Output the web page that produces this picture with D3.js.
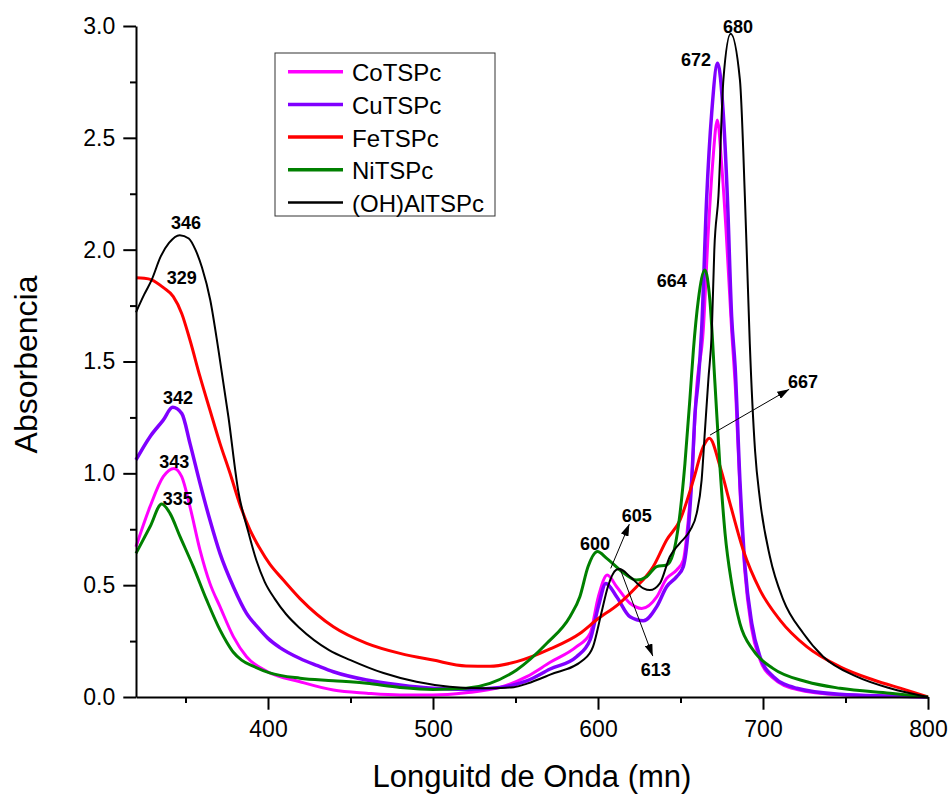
<!DOCTYPE html>
<html>
<head>
<meta charset="utf-8">
<script src="https://cdn.jsdelivr.net/npm/d3@7/dist/d3.min.js"></script>
<style>
  html, body { margin: 0; padding: 0; background: #fff; }
  svg { display: block; font-family: "Liberation Sans", Arial, sans-serif; }
</style>
</head>
<body>
<svg id="chart" width="951" height="794"></svg>
<script>
// UV-Vis absorption spectra of the sulfonated phthalocyanines: [wavelength (nm), absorbance]
const coTSPc = [
  [320,0.672],[328.5,0.851],[336.5,0.985],[343,1.022],[347.7,0.985],[352.7,0.851],[358.8,0.657],
  [364.8,0.508],[370.9,0.404],[379,0.27],[387,0.18],[400,0.112],[419.4,0.068],[439.6,0.031],
  [459.8,0.017],[480,0.009],[500,0.009],[520,0.019],[540.6,0.043],[556.8,0.091],[571,0.155],
  [587,0.225],[595.2,0.284],[600.2,0.448],[605.6,0.545],[611.3,0.493],[619.4,0.419],[626.5,0.396],
  [635.6,0.448],[641.6,0.53],[647.7,0.568],[651.7,0.612],[654.7,0.791],[657.4,1.045],[659.4,1.343],
  [663.8,1.64],[666.9,2.088],[669.5,2.386],[672.3,2.58],[674.9,2.386],[677.6,2.088],[681,1.64],
  [683.5,1.35],[686,0.93],[689,0.56],[693,0.31],[698,0.17],[706,0.085],[720,0.035],[747,0.01],
  [777,0.004],[800,0]
];
const cuTSPc = [
  [320,1.06],[328.5,1.164],[336.5,1.238],[342.2,1.295],[347.7,1.268],[352.7,1.134],[358.8,0.955],
  [364.8,0.791],[370.9,0.642],[379,0.493],[387,0.374],[394,0.31],[400,0.262],[407,0.222],
  [419.4,0.172],[430,0.14],[439.6,0.113],[459.8,0.076],[480,0.054],[500,0.039],[520,0.034],
  [540.6,0.043],[556.8,0.072],[571,0.125],[587,0.18],[595.2,0.255],[600.2,0.404],[604.8,0.508],
  [611.3,0.448],[619.4,0.359],[627.5,0.341],[635.6,0.404],[641.6,0.493],[647.7,0.538],[651.7,0.583],
  [654.7,0.747],[656.8,0.97],[658.8,1.268],[660.8,1.417],[662.8,1.64],[665.9,2.237],[668.9,2.61],
  [672.5,2.833],[675.9,2.61],[678.4,2.237],[681,1.7],[683.1,1.477],[686.1,0.955],[689.1,0.583],
  [693.2,0.329],[698.2,0.18],[706.3,0.091],[720.4,0.039],[746.7,0.012],[777,0.004],[800,0]
];
const feTSPc = [
  [320,1.874],[325,1.872],[329.5,1.865],[336.6,1.83],[342.6,1.79],[347.7,1.715],[352.7,1.596],
  [358.8,1.432],[364.8,1.283],[370.9,1.134],[377,1.0],[383,0.86],[389,0.748],[395,0.665],
  [401,0.595],[409.3,0.523],[419.4,0.44],[439.6,0.314],[459.8,0.24],[480,0.195],[500,0.165],
  [520,0.139],[534.5,0.137],[550.7,0.158],[571,0.215],[589,0.284],[599,0.344],[613,0.419],
  [623.4,0.493],[633.5,0.583],[641.6,0.702],[649.7,0.791],[657.8,0.97],[663.8,1.119],[667.5,1.157],
  [674,1.03],[680,0.866],[688,0.657],[698.2,0.478],[710.3,0.344],[726.5,0.225],[746.7,0.135],
  [767,0.076],[787,0.031],[800,0]
];
const niTSPc = [
  [320,0.642],[328.5,0.761],[335.6,0.863],[340.6,0.821],[346.7,0.717],[354.7,0.583],[362.8,0.434],
  [370.9,0.30],[375,0.245],[379,0.2],[384,0.165],[391,0.138],[401,0.108],[419.4,0.084],[439.6,0.073],
  [459.8,0.061],[480,0.043],[500,0.034],[520,0.039],[534.5,0.061],[550.7,0.121],[569,0.24],[583,0.359],
  [589,0.448],[594,0.583],[599.6,0.65],[605.3,0.62],[613.3,0.568],[623.4,0.523],[629.5,0.538],
  [635.6,0.583],[641.6,0.59],[645.6,0.642],[649.7,0.821],[652.7,1.045],[655.8,1.343],[657.8,1.55],
  [660.8,1.775],[664.8,1.909],[667.8,1.775],[670.9,1.40],[673.9,1.03],[677,0.732],[681,0.508],
  [686,0.329],[694,0.21],[706,0.128],[726.5,0.068],[746.7,0.039],[777,0.017],[800,0]
];
const ohAlTSPc = [
  [320,1.72],[325,1.80],[329.5,1.865],[335,1.97],[340,2.03],[346.5,2.065],[352,2.05],[356,2.0],
  [360,1.92],[365,1.775],[370,1.55],[376,1.253],[382,0.92],[388,0.74],[393,0.61],[398,0.515],
  [404,0.44],[411,0.37],[419,0.31],[437,0.21],[450,0.165],[470,0.107],[490,0.068],[510,0.046],
  [530,0.039],[549,0.044],[557,0.06],[571,0.10],[591,0.165],[597,0.225],[602,0.374],[606,0.493],
  [611,0.568],[613,0.572],[619.5,0.538],[627.5,0.486],[631.5,0.478],[637.5,0.508],[643.5,0.627],
  [649.5,0.687],[655.8,0.745],[659.8,0.821],[662.8,0.97],[664.8,1.19],[666.9,1.42],[669,1.64],
  [670.5,2.0],[673,2.24],[676,2.76],[680.4,2.965],[686,2.76],[689,2.24],[690.1,2.0],[692,1.58],
  [695.2,1.10],[698.2,0.88],[704.2,0.627],[712.3,0.434],[724.4,0.285],[736.5,0.18],[756.8,0.091],
  [777,0.039],[800,0]
];

const seriesNames = ["CoTSPc", "CuTSPc", "FeTSPc", "NiTSPc", "(OH)AlTSPc"];
const seriesData = [coTSPc, cuTSPc, feTSPc, niTSPc, ohAlTSPc];
const seriesColors = ["#ff00ff", "#8000ff", "#ff0000", "#008000", "#000000"];
const seriesWidths = [3, 3.5, 3, 3, 2];

const xMajorTicks = [400, 500, 600, 700, 800];
const xMinorTicks = [350, 450, 550, 650, 750];
const yMajorTicks = [0, 0.5, 1.0, 1.5, 2.0, 2.5, 3.0];
const yMinorTicks = [0.25, 0.75, 1.25, 1.75, 2.25, 2.75];

// Peak labels [text, wavelength, absorbance at text baseline]
const peakLabels = [
  ["346", 350.3, 2.092], ["329", 347.7, 1.846], ["342", 345.5, 1.31], ["343", 343.2, 1.024],
  ["335", 345.3, 0.858], ["600", 598.2, 0.657], ["605", 623.5, 0.784], ["613", 635, 0.094],
  ["664", 644.7, 1.833], ["672", 659.4, 2.821], ["680", 684.8, 2.969], ["667", 724.2, 1.381]
];
// Pointer arrows [from wavelength, from absorbance, to wavelength, to absorbance]
const pointerArrows = [
  [607.7, 0.575, 619.0, 0.773],
  [613.3, 0.575, 633.2, 0.183],
  [667.9, 1.171, 715.9, 1.376]
];

const margin = { left: 136, top: 26, right: 23, bottom: 97 };
const W = 951, H = 794;

const svg = d3.select("#chart");
svg.append("rect").attr("width", W).attr("height", H).attr("fill", "#fff");

const x = d3.scaleLinear().domain([320, 800]).range([margin.left, W - margin.right]);
const y = d3.scaleLinear().domain([0, 3.0]).range([H - margin.bottom, margin.top]);

const line = d3.line()
  .x(d => x(d[0]))
  .y(d => y(d[1]))
  .curve(d3.curveMonotoneX);

const plot = svg.append("g");
seriesData.forEach((s, i) => {
  plot.append("path")
    .datum(s)
    .attr("fill", "none")
    .attr("stroke", seriesColors[i])
    .attr("stroke-width", seriesWidths[i])
    .attr("stroke-linejoin", "round")
    .attr("d", line);
});

// Axes: major ticks with labels, minor ticks without
const tickFont = 23;
svg.append("g").attr("transform", `translate(${margin.left},0)`)
  .call(d3.axisLeft(y).tickValues(yMajorTicks).tickFormat(d3.format(".1f"))
    .tickSize(12.7).tickSizeOuter(0).tickPadding(8));
svg.append("g").attr("transform", `translate(${margin.left},0)`)
  .call(d3.axisLeft(y).tickValues(yMinorTicks).tickFormat("").tickSize(6).tickSizeOuter(0))
  .select(".domain").remove();

svg.append("g").attr("transform", `translate(0,${H - margin.bottom})`)
  .call(d3.axisBottom(x).tickValues(xMajorTicks).tickFormat(d3.format("d"))
    .tickSize(12.7).tickSizeOuter(0).tickPadding(11));
svg.append("g").attr("transform", `translate(0,${H - margin.bottom})`)
  .call(d3.axisBottom(x).tickValues(xMinorTicks).tickFormat("").tickSize(6).tickSizeOuter(0))
  .select(".domain").remove();

svg.selectAll(".domain").attr("stroke", "#000").attr("stroke-width", 2);
svg.selectAll(".tick line").attr("stroke", "#000").attr("stroke-width", 2);
svg.selectAll(".tick text")
  .attr("font-family", "'Liberation Sans', Arial, sans-serif")
  .attr("font-size", tickFont).attr("fill", "#000");

// Axis titles
svg.append("text")
  .attr("x", (x.range()[0] + x.range()[1]) / 2).attr("y", 787)
  .attr("text-anchor", "middle").attr("font-size", 31).attr("fill", "#000")
  .text("Longuitd de Onda (mn)");
svg.append("text")
  .attr("transform", `translate(37,${(y.range()[0] + y.range()[1]) / 2 + 3}) rotate(-90)`)
  .attr("text-anchor", "middle").attr("font-size", 32).attr("fill", "#000")
  .text("Absorbencia");

// Arrowhead marker
svg.append("defs").append("marker")
  .attr("id", "arrowHead").attr("markerUnits", "userSpaceOnUse")
  .attr("viewBox", "0 0 12 8").attr("refX", 12).attr("refY", 4)
  .attr("markerWidth", 12).attr("markerHeight", 8).attr("orient", "auto")
  .append("path").attr("d", "M0,0 L12,4 L0,8 Z").attr("fill", "#000");

svg.append("g").selectAll("line").data(pointerArrows).join("line")
  .attr("x1", d => x(d[0])).attr("y1", d => y(d[1]))
  .attr("x2", d => x(d[2])).attr("y2", d => y(d[3]))
  .attr("stroke", "#000").attr("stroke-width", 1)
  .attr("marker-end", "url(#arrowHead)");

svg.append("g").selectAll("text").data(peakLabels).join("text")
  .attr("x", d => x(d[1])).attr("y", d => y(d[2]))
  .attr("text-anchor", "middle").attr("font-size", 18).attr("font-weight", "bold")
  .attr("fill", "#000")
  .text(d => d[0]);

// Legend
const legend = svg.append("g").attr("transform", "translate(275,53)");
legend.append("rect").attr("width", 220).attr("height", 163)
  .attr("fill", "#fff").attr("stroke", "#333").attr("stroke-width", 1);
seriesNames.forEach((name, i) => {
  const ly = 18.7 + i * 32.7;
  legend.append("line").attr("x1", 13).attr("x2", 68).attr("y1", ly).attr("y2", ly)
    .attr("stroke", seriesColors[i]).attr("stroke-width", i === 4 ? 2.5 : 3.5);
  legend.append("text").attr("x", 77).attr("y", ly + 9.5)
    .attr("font-size", 24).attr("fill", "#000").text(name);
});
</script>
</body>
</html>
